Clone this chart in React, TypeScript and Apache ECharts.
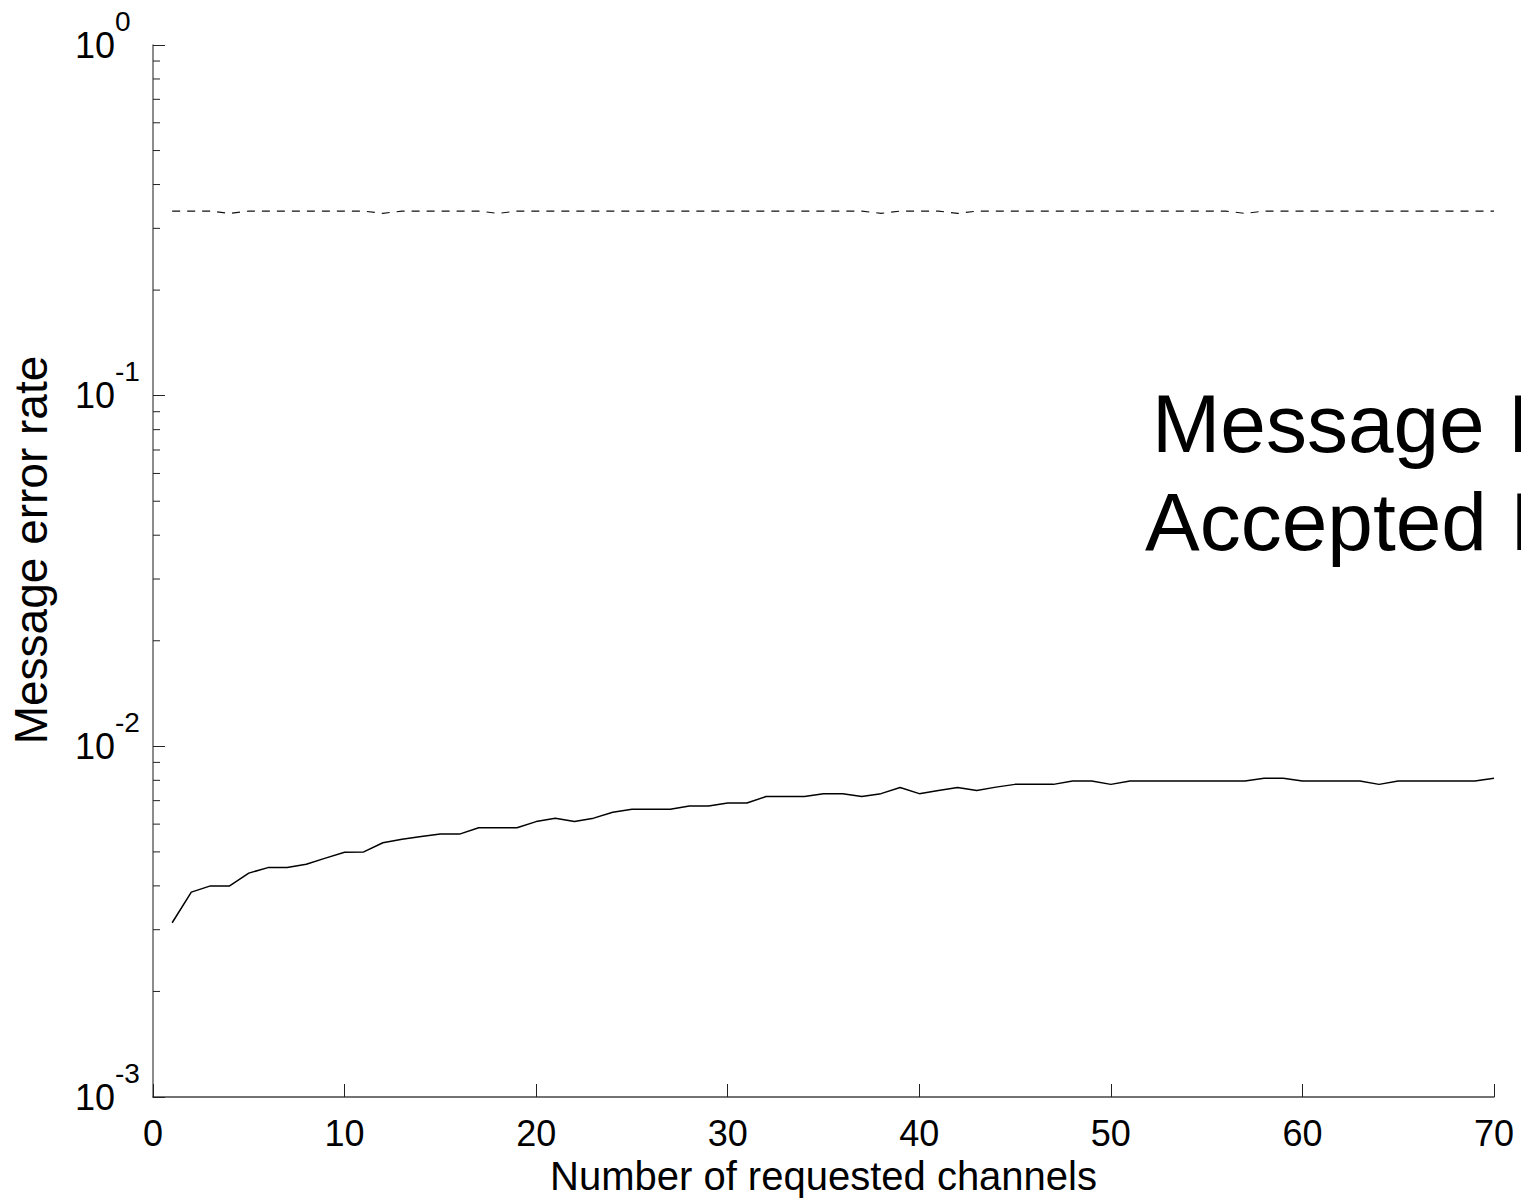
import React, { useEffect, useRef } from "react";
import * as echarts from "echarts";

// Number of requested channels (x)
const channels = [
  1, 2, 3, 4, 5, 6, 7, 8, 9, 10, 11, 12, 13, 14, 15, 16, 17, 18, 19, 20,
  21, 22, 23, 24, 25, 26, 27, 28, 29, 30, 31, 32, 33, 34, 35, 36, 37, 38, 39, 40,
  41, 42, 43, 44, 45, 46, 47, 48, 49, 50, 51, 52, 53, 54, 55, 56, 57, 58, 59, 60,
  61, 62, 63, 64, 65, 66, 67, 68, 69, 70,
];

// dashed curve (upper)
const dashedRate = [
  0.336, 0.336, 0.336, 0.331, 0.336, 0.336, 0.336, 0.336, 0.336, 0.336,
  0.336, 0.331, 0.336, 0.336, 0.336, 0.336, 0.336, 0.331, 0.336, 0.336,
  0.336, 0.336, 0.336, 0.336, 0.336, 0.336, 0.336, 0.336, 0.336, 0.336,
  0.336, 0.336, 0.336, 0.336, 0.336, 0.336, 0.336, 0.331, 0.336, 0.336,
  0.336, 0.331, 0.336, 0.336, 0.336, 0.336, 0.336, 0.336, 0.336, 0.336,
  0.336, 0.336, 0.336, 0.336, 0.336, 0.336, 0.331, 0.336, 0.336, 0.336,
  0.336, 0.336, 0.336, 0.336, 0.336, 0.336, 0.336, 0.336, 0.336, 0.336,
];

// solid curve (lower)
const solidRate = [
  0.00314, 0.00384, 0.0040, 0.0040, 0.00435, 0.00451, 0.00451, 0.00461, 0.0048, 0.00499,
  0.0050, 0.00531, 0.00543, 0.00553, 0.00562, 0.00562, 0.00586, 0.00586, 0.00586, 0.0061,
  0.00624, 0.0061, 0.00624, 0.00649, 0.00662, 0.00662, 0.00662, 0.00676, 0.00676, 0.00689,
  0.00689, 0.00719, 0.00719, 0.00719, 0.00733, 0.00733, 0.00719, 0.00733, 0.00763, 0.00733,
  0.00748, 0.00763, 0.00748, 0.00765, 0.00779, 0.00779, 0.00779, 0.00796, 0.00796, 0.00779,
  0.00796, 0.00796, 0.00796, 0.00796, 0.00796, 0.00796, 0.00796, 0.00811, 0.00811, 0.00796,
  0.00796, 0.00796, 0.00796, 0.00779, 0.00796, 0.00796, 0.00796, 0.00796, 0.00796, 0.00811,
];

// y-axis decades and minor tick multipliers (log axis)
const yDecades = [0.001, 0.01, 0.1];
const minorMultipliers = [2, 3, 4, 5, 6, 7, 8, 9];

const legendLines = ["Message I", "Accepted I"];
const xTitle = "Number of requested channels";
const yTitle = "Message error rate";

const FONT = '"Liberation Sans", Arial, Helvetica, sans-serif';

export default function App() {
  const ref = useRef<HTMLDivElement>(null);

  useEffect(() => {
    if (!ref.current) return;
    const chart = echarts.init(ref.current, undefined, { renderer: "svg" });

    const minorTicks: number[][] = [];
    yDecades.forEach((d) =>
      minorMultipliers.forEach((m) => minorTicks.push([0, d * m]))
    );

    const option: any = {
      animation: false,
      backgroundColor: "#ffffff",
      grid: {
        left: 153,
        right: 27,
        top: 45,
        bottom: 107,
        containLabel: false,
        outerBoundsMode: "none",
      },
      xAxis: {
        type: "value",
        min: 0,
        max: 70,
        interval: 10,
        name: xTitle,
        nameLocation: "middle",
        nameGap: 58,
        nameTextStyle: { fontFamily: FONT, fontSize: 40, color: "#000" },
        axisLine: { show: true, onZero: false, lineStyle: { color: "#444", width: 1.5 } },
        axisTick: { show: true, inside: true, length: 13, lineStyle: { color: "#222", width: 1 } },
        axisLabel: { margin: 18, fontFamily: FONT, fontSize: 36, color: "#000" },
        splitLine: { show: false },
      },
      yAxis: {
        type: "log",
        logBase: 10,
        min: 0.001,
        max: 1,
        axisLine: { show: true, lineStyle: { color: "#666", width: 1.5 } },
        axisTick: { show: true, inside: true, length: 12, lineStyle: { color: "#222", width: 1 } },
        axisLabel: {
          margin: 78,
          align: "left",
          formatter: (v: number) => {
            const e = Math.round(Math.log10(v));
            return `{b|10}{e|${e}}`;
          },
          rich: {
            b: { fontFamily: FONT, fontSize: 36, color: "#000", lineHeight: 76 },
            e: { fontFamily: FONT, fontSize: 28, color: "#000", verticalAlign: "top", lineHeight: 28 },
          },
        },
        splitLine: { show: false },
      },
      series: [
        {
          name: "dashed",
          type: "line",
          data: channels.map((c, i) => [c, dashedRate[i]]),
          showSymbol: false,
          symbol: "none",
          lineStyle: { color: "#111", width: 1.1, type: [8, 7] },
        },
        {
          name: "solid",
          type: "line",
          data: channels.map((c, i) => [c, solidRate[i]]),
          showSymbol: false,
          symbol: "none",
          lineStyle: { color: "#000", width: 1.5 },
        },
        {
          name: "minorTicks",
          type: "custom",
          data: minorTicks,
          encode: { x: 0, y: 1 },
          silent: true,
          renderItem: (params: any, api: any) => {
            const p = api.coord([api.value(0), api.value(1)]);
            return {
              type: "line",
              shape: { x1: p[0], y1: p[1], x2: p[0] + 7, y2: p[1] },
              style: { stroke: "#222", lineWidth: 1 },
            };
          },
        },
      ],
      graphic: [
        {
          type: "text",
          x: 31,
          y: 550,
          rotation: Math.PI / 2,
          style: {
            text: yTitle,
            fontFamily: FONT,
            fontSize: 46,
            fill: "#000",
            align: "center",
            verticalAlign: "middle",
          },
        },
        {
          type: "text",
          x: 1152,
          y: 423,
          style: {
            text: legendLines[0],
            fontFamily: FONT,
            fontSize: 82,
            fill: "#000",
            align: "left",
            verticalAlign: "middle",
          },
        },
        {
          type: "text",
          x: 1145,
          y: 521,
          style: {
            text: legendLines[1],
            fontFamily: FONT,
            fontSize: 82,
            fill: "#000",
            align: "left",
            verticalAlign: "middle",
          },
        },
      ],
    };

    chart.setOption(option);
    return () => chart.dispose();
  }, []);

  return (
    <div
      ref={ref}
      style={{ position: "absolute", left: 0, top: 0, width: 1521, height: 1204, background: "#fff" }}
    />
  );
}
